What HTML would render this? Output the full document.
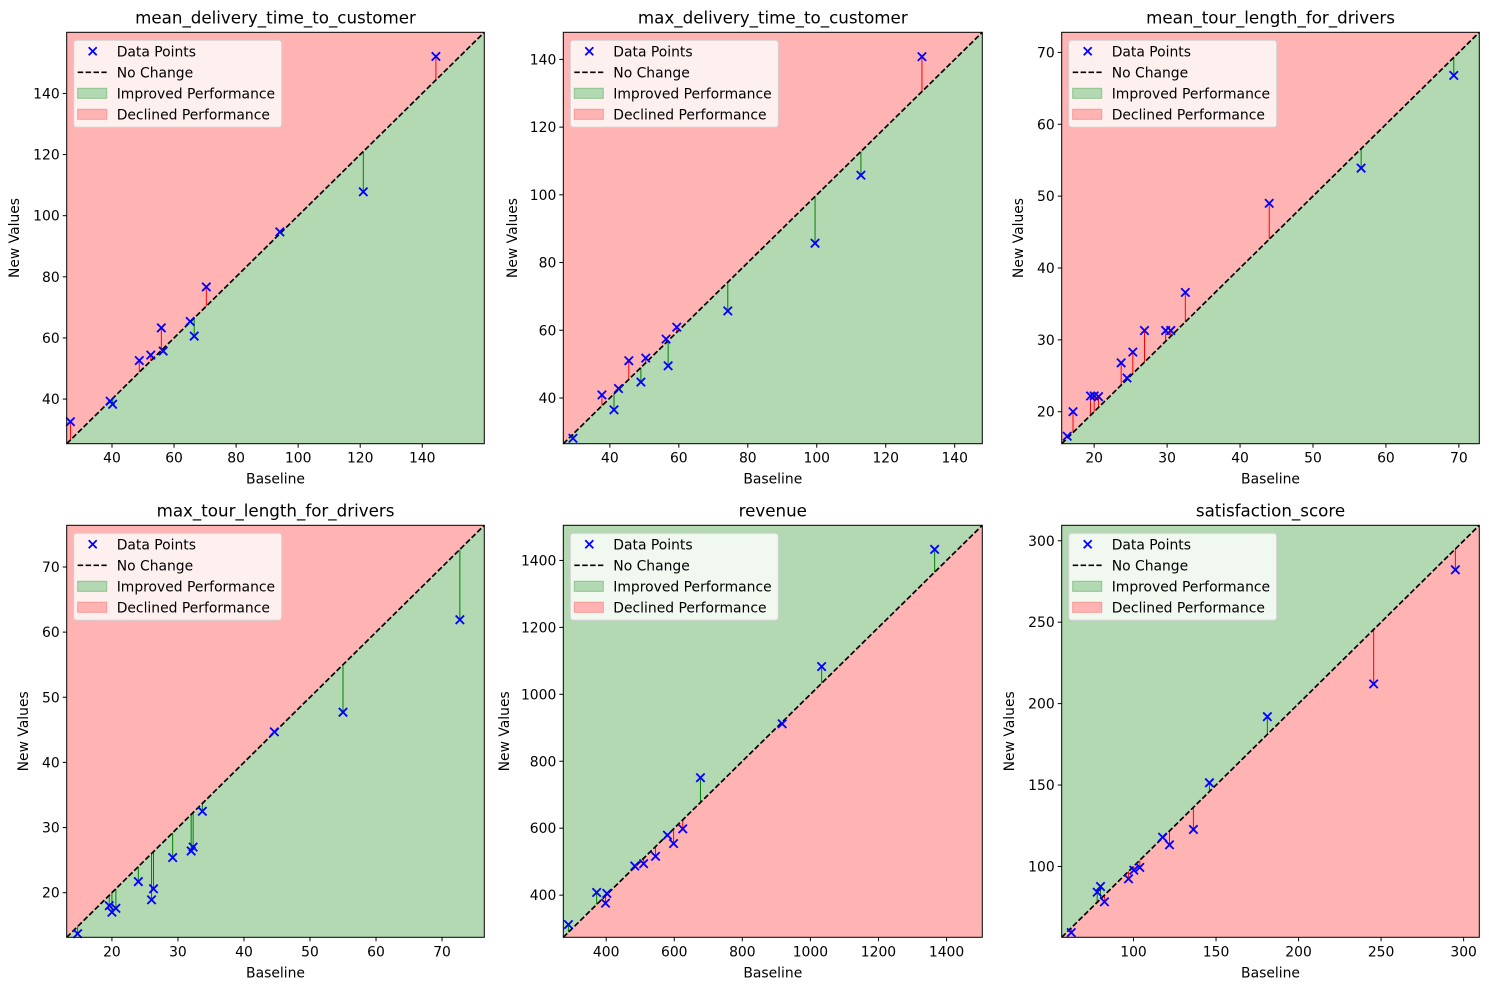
<!DOCTYPE html>
<html><head><meta charset="utf-8"><style>
html,body{margin:0;padding:0;background:#fff;}
svg{display:block;font-family:"DejaVu Sans","Liberation Sans",sans-serif;}
</style></head><body>
<svg id="fig" width="1489" height="990" viewBox="0 0 1489 990" xmlns="http://www.w3.org/2000/svg"></svg>
<script>
// ---- data arrays ----
const titles = ["mean_delivery_time_to_customer","max_delivery_time_to_customer","mean_tour_length_for_drivers","max_tour_length_for_drivers","revenue","satisfaction_score"];
const higherIsBetter = [false,false,false,false,true,true];
const baseline1 = [26.6,39.4,40.2,48.8,52.5,55.9,56.5,65.2,66.5,70.4,94.1,121.0,144.4];
const newVals1  = [32.6,39.3,38.3,52.6,54.4,63.3,55.7,65.4,60.6,76.7,94.7,107.8,152.1];
const baseline2 = [29.3,37.7,41.2,42.5,45.5,49.0,50.4,56.3,56.9,59.4,74.2,99.5,112.8,130.5];
const newVals2  = [28.1,40.9,36.5,42.8,51.0,44.7,51.8,57.4,49.5,60.9,65.7,85.7,105.8,140.8];
const baseline3 = [16.3,17.1,19.5,20.0,20.6,23.7,24.5,25.3,26.9,29.8,30.5,32.5,44.0,56.6,69.3];
const newVals3  = [16.6,20.0,22.2,22.2,22.1,26.8,24.7,28.3,31.3,31.3,31.3,36.6,49.0,53.9,66.8];
const baseline4 = [14.8,19.6,20.0,20.6,24.0,26.0,26.3,29.2,32.0,32.3,33.7,44.6,55.0,72.7];
const newVals4  = [13.7,18.0,17.0,17.6,21.7,18.9,20.6,25.4,26.4,27.0,32.5,44.7,47.7,61.9];
const baseline5 = [289,372,398,402,484,510,545,580,598,625,677,917,1033,1365];
const newVals5  = [312,408,376,405,487,494,516,579,554,598,751,912,1083,1433];
const baseline6 = [62.3,78.0,80.0,82.4,97.0,100.2,103.8,117.6,121.8,136.3,146.0,181.1,245.5,295.0];
const newVals6  = [59.4,84.2,87.7,78.3,92.4,97.7,99.4,118.0,113.3,122.7,151.4,192.0,212.1,282.2];
const axisMin = [25.4,26.5,15.55,13.15,274,56.5];
const axisMax = [160,148,72.8,76.4,1505,309.5];
const ticks1 = [40,60,80,100,120,140];
const ticks2 = [40,60,80,100,120,140];
const ticks3 = [20,30,40,50,60,70];
const ticks4 = [20,30,40,50,60,70];
const ticks5 = [400,600,800,1000,1200,1400];
const ticks6 = [100,150,200,250,300];

const baselines=[baseline1,baseline2,baseline3,baseline4,baseline5,baseline6];
const newvals=[newVals1,newVals2,newVals3,newVals4,newVals5,newVals6];
const tickSets=[ticks1,ticks2,ticks3,ticks4,ticks5,ticks6];

const NS="http://www.w3.org/2000/svg";
const fig=document.getElementById('fig');
function mk(tag,attrs,parent){const e=document.createElementNS(NS,tag);for(const k in attrs)e.setAttribute(k,attrs[k]);(parent||fig).appendChild(e);return e;}
const GREEN="#b3d9b3", RED="#ffb3b3";
const FS=13.9;
const colsX=[[66.7,484.3],[563.3,982.3],[1061.7,1479.3]];
const rowsY=[[32.3,443.7],[525.3,937.3]];
const ylabX=[15,513,1019];
const ylabX2=[24,505,1010];

for(let p=0;p<6;p++){
  const [x0,x1]=colsX[p%3]; const [y0,y1]=rowsY[Math.floor(p/3)];
  const lo=axisMin[p], hi=axisMax[p];
  const sx=v=>x0+(v-lo)/(hi-lo)*(x1-x0);
  const sy=v=>y1-(v-lo)/(hi-lo)*(y1-y0);
  const g=mk('g',{});
  
  
  const upColor=higherIsBetter[p]?GREEN:RED, downColor=higherIsBetter[p]?RED:GREEN;
  const up=mk('polygon',{points:`${x0},${y1} ${x0},${y0} ${x1},${y0}`,fill:upColor},g);
  
  
  const dn=mk('polygon',{points:`${x0},${y1} ${x1},${y0} ${x1},${y1}`,fill:downColor},g);
  
  
  const b=baselines[p], n=newvals[p];
  for(let i=0;i<b.length;i++){
    const improved=higherIsBetter[p]?n[i]>b[i]:n[i]<b[i];
    const l=mk('line',{x1:sx(b[i]),x2:sx(b[i]),y1:sy(b[i]),y2:sy(n[i]),stroke:improved?'#008000':'#ff0000','stroke-width':1},g);
    
    
  }
  const d=mk('line',{x1:sx(lo),y1:sy(lo),x2:sx(hi),y2:sy(hi),stroke:'#000','stroke-width':1.7,'stroke-dasharray':'5.5,2.4'},g);
  
  
  for(let i=0;i<b.length;i++){
    const cx=sx(b[i]), cy=sy(n[i]), r=4.2;
    const m=mk('path',{d:`M${cx-r},${cy-r}L${cx+r},${cy+r}M${cx-r},${cy+r}L${cx+r},${cy-r}`,stroke:'#0000ff','stroke-width':1.8,fill:'none'},g);
    
    
  }
  const fr=mk('rect',{x:x0,y:y0,width:x1-x0,height:y1-y0,fill:'none',stroke:'#000','stroke-width':1},g);
  
  
  tickSets[p].forEach(t=>{
    const tx=sx(t), ty=sy(t);
    mk('line',{x1:tx,x2:tx,y1:y1,y2:y1+4,stroke:'#000'},g);
    const xl=mk('text',{x:tx,y:y1+19,'text-anchor':'middle','font-size':FS,fill:'#000'},g);
    xl.textContent=t;
    
    
    mk('line',{x1:x0-4,x2:x0,y1:ty,y2:ty,stroke:'#000'},g);
    const yl=mk('text',{x:x0-7,y:ty+5,'text-anchor':'end','font-size':FS,fill:'#000'},g);
    yl.textContent=t;
    
    
  });
  const tt=mk('text',{x:(x0+x1)/2,y:y0-9,'text-anchor':'middle','font-size':16.7,fill:'#000'},g);
  tt.textContent=titles[p];
  
  
  const xt=mk('text',{x:(x0+x1)/2,y:y1+40,'text-anchor':'middle','font-size':FS,fill:'#000'},g);
  xt.textContent='Baseline';
  
  
  const yx=(p<3?ylabX:ylabX2)[p%3]+4, yc=(y0+y1)/2;
  const yt=mk('text',{x:yx,y:yc,'text-anchor':'middle','font-size':FS,fill:'#000',transform:`rotate(-90 ${yx} ${yc})`},g);
  yt.textContent='New Values';
  
  
  // legend
  const lg=mk('g',{},g);
  
  
  const lx=x0+7, ly=y0+8;
  mk('rect',{x:lx,y:ly,width:208,height:87,rx:3,fill:'#fff','fill-opacity':0.8,stroke:'#d0d0d0'},lg);
  const labels=['Data Points','No Change','Improved Performance','Declined Performance'];
  labels.forEach((lab,i)=>{
    const ry=ly+11+i*21;
    if(i===0){mk('path',{d:`M${lx+15},${ry-4}L${lx+23},${ry+4}M${lx+15},${ry+4}L${lx+23},${ry-4}`,stroke:'#0000ff','stroke-width':1.8},lg);}
    else if(i===1){mk('line',{x1:lx+4,x2:lx+33,y1:ry,y2:ry,stroke:'#000','stroke-width':1.7,'stroke-dasharray':'5.5,2.4'},lg);}
    else if(i===2){mk('rect',{x:lx+4,y:ry-5,width:29,height:10,fill:'#b3d9b3',stroke:'#8fc48f'},lg);}
    else {mk('rect',{x:lx+4,y:ry-5,width:29,height:10,fill:'#ffb3b3',stroke:'#f59a9a'},lg);}
    const te=mk('text',{x:lx+43,y:ry+5,'font-size':FS,fill:'#000'},lg);
    te.textContent=lab;
    
    
  });
}
</script>
</body></html>
